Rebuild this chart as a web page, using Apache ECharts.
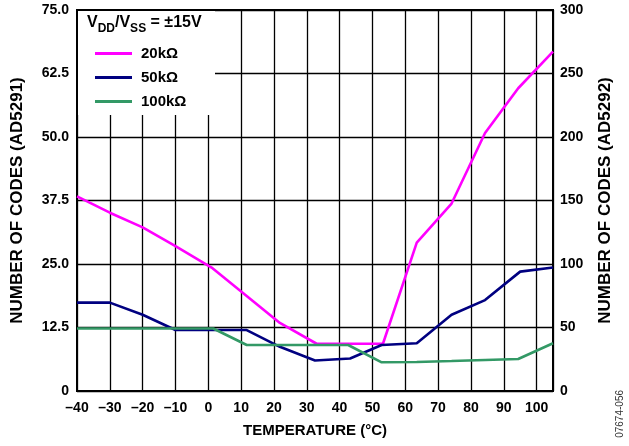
<!DOCTYPE html>
<html><head><meta charset="utf-8">
<script src="https://cdn.jsdelivr.net/npm/echarts@6/dist/echarts.min.js"></script>
<style>html,body{margin:0;padding:0;background:#fff}#c{width:629px;height:446px}</style>
</head><body><div id="c"></div>
<script>
// Temperature (°C) and number of codes (left axis, AD5291 units)
var temp20k = [-40, -30, -20, -10, 1, 10, 21.8, 33, 43, 53.2, 63.5, 74.1, 84.3, 94.4, 105];
var codes20k = [38.3, 35.1, 32.2, 28.5, 24.3, 19.6, 13.4, 9.3, 9.3, 9.3, 29.2, 36.9, 50.8, 59.6, 66.8];
var temp50k = [-40, -30, -20, -10, 1, 11.7, 21.8, 32.5, 43.2, 52.8, 63.5, 74.1, 84.3, 95, 105];
var codes50k = [17.4, 17.4, 15.0, 12.0, 12.0, 12.0, 8.7, 6.0, 6.4, 9.05, 9.4, 15.0, 17.9, 23.5, 24.3];
var temp100k = [-40, -30, -20, -10, 1.5, 11.7, 21.8, 32.5, 42.6, 52.8, 63.5, 74.1, 84.3, 94.4, 105];
var codes100k = [12.3, 12.3, 12.3, 12.3, 12.3, 9.05, 9.05, 9.05, 9.05, 5.65, 5.7, 5.9, 6.1, 6.3, 9.4];
var seriesNames = ['20k\u03A9', '50k\u03A9', '100k\u03A9'];
var leftTicks = {min: 0, max: 75, interval: 12.5};
var rightTicks = {min: 0, max: 300, interval: 50};
var xTicks = {min: -40, max: 105, interval: 10};

function pairs(xs, ys) { return xs.map(function (x, i) { return [x, ys[i]]; }); }
var colors = ['#FF00FF', '#000080', '#339966'];
var FONT = '"Liberation Sans", Arial, sans-serif';
var lbl = {color: '#000', fontWeight: 'bold', fontSize: 14, fontFamily: FONT};
var nameStyle = {color: '#000', fontWeight: 'bold', fontSize: 15, fontFamily: FONT};
var yNameStyle = {color: '#000', fontWeight: 'bold', fontSize: 17, fontFamily: FONT};
var grid = {color: '#000', width: 1.3};

var chart = echarts.init(document.getElementById('c'));
chart.setOption({
  animation: false,
  grid: {left: 77, right: 76, top: 10, bottom: 55, show: true, borderColor: '#000', borderWidth: 2, backgroundColor: 'transparent'},
  xAxis: {
    type: 'value', min: xTicks.min, max: xTicks.max, interval: xTicks.interval,
    name: 'TEMPERATURE (\u00B0C)', nameLocation: 'middle', nameGap: 32,
    nameTextStyle: nameStyle,
    axisLine: {show: true, onZero: false, lineStyle: {color: '#000', width: 2}},
    axisTick: {show: false},
    splitLine: {show: true, lineStyle: grid},
    axisLabel: Object.assign({margin: 10, showMaxLabel: false, formatter: function (v) { return v === 105 ? '' : String(v).replace('-', '\u2013'); }}, lbl)
  },
  yAxis: [{
    type: 'value', min: leftTicks.min, max: leftTicks.max, interval: leftTicks.interval,
    name: 'NUMBER OF CODES (AD5291)', nameLocation: 'middle', nameGap: 51.5, nameRotate: 90,
    nameTextStyle: yNameStyle,
    axisLine: {show: true, onZero: false, lineStyle: {color: '#000', width: 2}},
    axisTick: {show: false},
    splitLine: {show: true, lineStyle: grid},
    axisLabel: Object.assign({margin: 8, formatter: function (v) { return v === 0 ? '0' : v.toFixed(1); }}, lbl)
  }, {
    type: 'value', min: rightTicks.min, max: rightTicks.max, interval: rightTicks.interval, position: 'right',
    name: 'NUMBER OF CODES (AD5292)', nameLocation: 'middle', nameGap: 43.5, nameRotate: 90,
    nameTextStyle: yNameStyle,
    axisLine: {show: true, onZero: false, lineStyle: {color: '#000', width: 2}},
    axisTick: {show: false},
    splitLine: {show: false},
    axisLabel: Object.assign({margin: 7}, lbl)
  }],
  legend: {
    orient: 'vertical', left: 90, top: 41, itemGap: 9,
    itemWidth: 37, itemHeight: 3, icon: 'rect',
    textStyle: {color: '#000', fontWeight: 'bold', fontSize: 15, fontFamily: FONT, padding: [0, 0, 0, 4]},
    data: seriesNames
  },
  graphic: [
    {type: 'rect', left: 78, top: 11, shape: {width: 137, height: 104}, style: {fill: '#fff'}, z: 1},
    {type: 'text', left: 87, top: 15, z: 10, style: {
      text: '{a|V}{s|DD}{a|/V}{s|SS}{a| = \u00B115V}',
      rich: {
        a: {fontSize: 16, fontWeight: 'bold', fontFamily: FONT, fill: '#000', lineHeight: 20, verticalAlign: 'bottom'},
        s: {fontSize: 12, fontWeight: 'bold', fontFamily: FONT, fill: '#000', lineHeight: 20, verticalAlign: 'bottom', padding: [0, 0, -4, 0]}
      }
    }},
    {type: 'text', left: 615, top: 390, rotation: Math.PI / 2, z: 10, style: {text: '07674-056', fontSize: 10, fontFamily: FONT, fill: '#333'}}
  ],
  series: [
    {name: seriesNames[0], type: 'line', data: pairs(temp20k, codes20k), showSymbol: false, color: colors[0], lineStyle: {width: 2.6, color: colors[0]}, z: 3},
    {name: seriesNames[1], type: 'line', data: pairs(temp50k, codes50k), showSymbol: false, color: colors[1], lineStyle: {width: 2.6, color: colors[1]}, z: 3},
    {name: seriesNames[2], type: 'line', data: pairs(temp100k, codes100k), showSymbol: false, color: colors[2], lineStyle: {width: 2.6, color: colors[2]}, z: 3}
  ]
});
</script>
</body></html>
